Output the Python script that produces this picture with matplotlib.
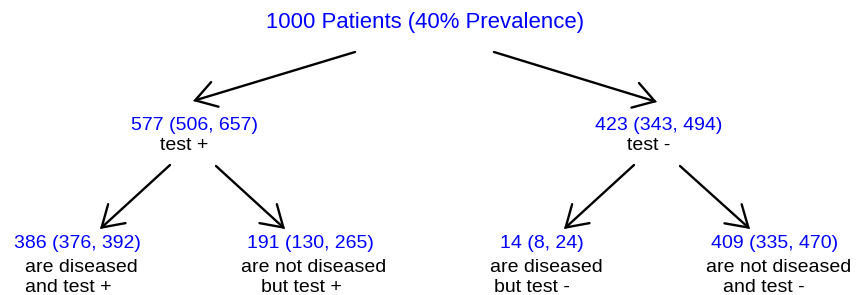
import matplotlib
matplotlib.use("Agg")
import matplotlib.pyplot as plt
from matplotlib.patches import FancyArrowPatch

# ---- data ----
total_patients = 1000
prevalence_pct = 40
node_names = ["test_pos", "test_neg", "tp", "fp", "fn", "tn"]
node_counts = [577, 423, 386, 191, 14, 409]
node_lower = [506, 343, 376, 130, 8, 335]
node_upper = [657, 494, 392, 265, 24, 470]
node_desc = [
    ["test +"],
    ["test -"],
    ["are diseased", "and test +"],
    ["are not diseased", "but test +"],
    ["are diseased", "but test -"],
    ["are not diseased", "and test -"],
]

# ---- layout (pixel coordinates) ----
W, H = 861, 295
fig = plt.figure(figsize=(W / 100, H / 100), dpi=100)
ax = fig.add_axes([0, 0, 1, 1])
ax.set_xlim(0, W)
ax.set_ylim(H, 0)
ax.axis("off")

FONT = "Liberation Sans"
FS = 14
BLUE = "#0000ff"

ax.text(266.5, 28, f"{total_patients} Patients ({prevalence_pct}% Prevalence)",
        color=BLUE, fontsize=15.9, family=FONT, ha="left", va="baseline")

# number line position (left, baseline), description left edges & baselines
num_pos = [(131, 130), (595, 130), (14, 248), (247, 248), (500.5, 248), (711, 248)]
desc_pos = [
    [(160.5, 150)],
    [(627, 150)],
    [(25, 271.5), (25, 291.5)],
    [(241, 271.5), (261, 291.5)],
    [(490, 271.5), (494, 291.5)],
    [(706, 271.5), (723, 291.5)],
]

for i in range(len(node_names)):
    x, y = num_pos[i]
    ax.text(x, y, f"{node_counts[i]} ({node_lower[i]}, {node_upper[i]})",
            color=BLUE, fontsize=FS, family=FONT, ha="left", va="baseline")
    for line, (dx, dy) in zip(node_desc[i], desc_pos[i]):
        ax.text(dx, dy, line, color="black", fontsize=FS, family=FONT,
                ha="left", va="baseline")

arrows = [
    ((355, 52), (193, 101)),
    ((494, 52), (657, 102)),
    ((170, 165), (100, 229)),
    ((216, 166), (285, 229)),
    ((634, 165), (564, 229)),
    ((680, 166), (750, 229)),
]
for start, end in arrows:
    ax.add_patch(FancyArrowPatch(start, end,
                                 arrowstyle="->,head_length=0.4,head_width=0.25",
                                 mutation_scale=37, lw=1.7, color="black",
                                 shrinkA=0, shrinkB=0, joinstyle="miter",
                                 capstyle="round"))

fig.savefig("out.png", dpi=100, facecolor="white")
